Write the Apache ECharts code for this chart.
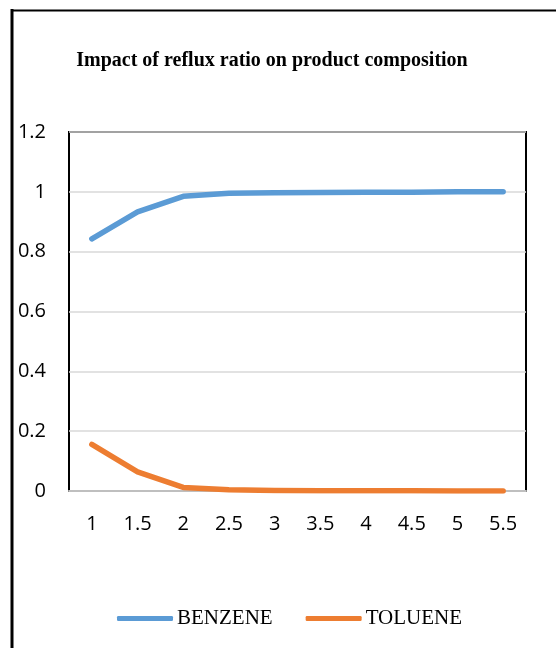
<!DOCTYPE html>
<html>
<head>
<meta charset="utf-8">
<script src="https://cdn.jsdelivr.net/npm/echarts@6/dist/echarts.min.js"></script>
<style>html,body{margin:0;padding:0;background:#fff}#c{width:556px;height:648px}</style>
</head>
<body>
<div id="c"></div>
<script>
var titleText = 'Impact of reflux ratio on product composition';
var categories = ['1', '1.5', '2', '2.5', '3', '3.5', '4', '4.5', '5', '5.5'];
var benzene = [0.843, 0.933, 0.985, 0.995, 0.997, 0.998, 0.999, 0.999, 1.0, 1.0];
var toluene = [0.156, 0.064, 0.012, 0.004, 0.002, 0.001, 0.001, 0.0005, 0.0, 0.0];
var seriesNames = ['BENZENE', 'TOLUENE'];
var colors = ['#5B9BD5', '#ED7D31'];

var chart = echarts.init(document.getElementById('c'), null, {renderer: 'canvas'});
chart.setOption({
  animation: false,
  color: colors,
  title: {
    text: titleText, left: 267, textAlign: 'center', top: 46,
    textStyle: {fontFamily: 'Liberation Serif', fontWeight: 'bold', fontSize: 20, color: '#000'}
  },
  legend: {
    bottom: 14, left: 112,
    itemWidth: 56, itemHeight: 5, itemGap: 33,
    icon: 'roundRect',
    textStyle: {fontFamily: 'Liberation Serif', fontSize: 21, color: '#000', padding: [0, 0, 0, -1]},
    data: seriesNames
  },
  grid: {
    left: 69, right: 30, top: 132, bottom: 157,
    show: true, borderColor: '#000', borderWidth: 2, backgroundColor: '#fff'
  },
  xAxis: {
    type: 'category', data: categories, boundaryGap: true,
    axisLine: {lineStyle: {color: '#BFBFBF', width: 2}},
    axisTick: {show: false},
    axisLabel: {color: '#000', fontFamily: 'Open Sans', fontSize: 20, margin: 23}
  },
  yAxis: {
    type: 'value', min: 0, max: 1.2, interval: 0.2,
    axisLine: {show: false}, axisTick: {show: false},
    splitLine: {lineStyle: {color: '#D9D9D9', width: 1.5}},
    axisLabel: {color: '#000', fontFamily: 'Open Sans', fontSize: 20, margin: 23,
      formatter: function (v) { return String(+v.toFixed(1)); }}
  },
  series: [
    {name: seriesNames[0], type: 'line', data: benzene, showSymbol: false, symbol: 'none',
      lineStyle: {width: 5.5, color: colors[0], cap: 'round', join: 'round'}},
    {name: seriesNames[1], type: 'line', data: toluene, showSymbol: false, symbol: 'none',
      lineStyle: {width: 5.5, color: colors[1], cap: 'round', join: 'round'}}
  ],
  graphic: [
    {type: 'line', shape: {x1: 12, y1: 9, x2: 12, y2: 648}, style: {stroke: '#000', lineWidth: 3}},
    {type: 'line', shape: {x1: 11, y1: 10.5, x2: 556, y2: 10.5}, style: {stroke: '#000', lineWidth: 2}}
  ]
});
</script>
</body>
</html>
